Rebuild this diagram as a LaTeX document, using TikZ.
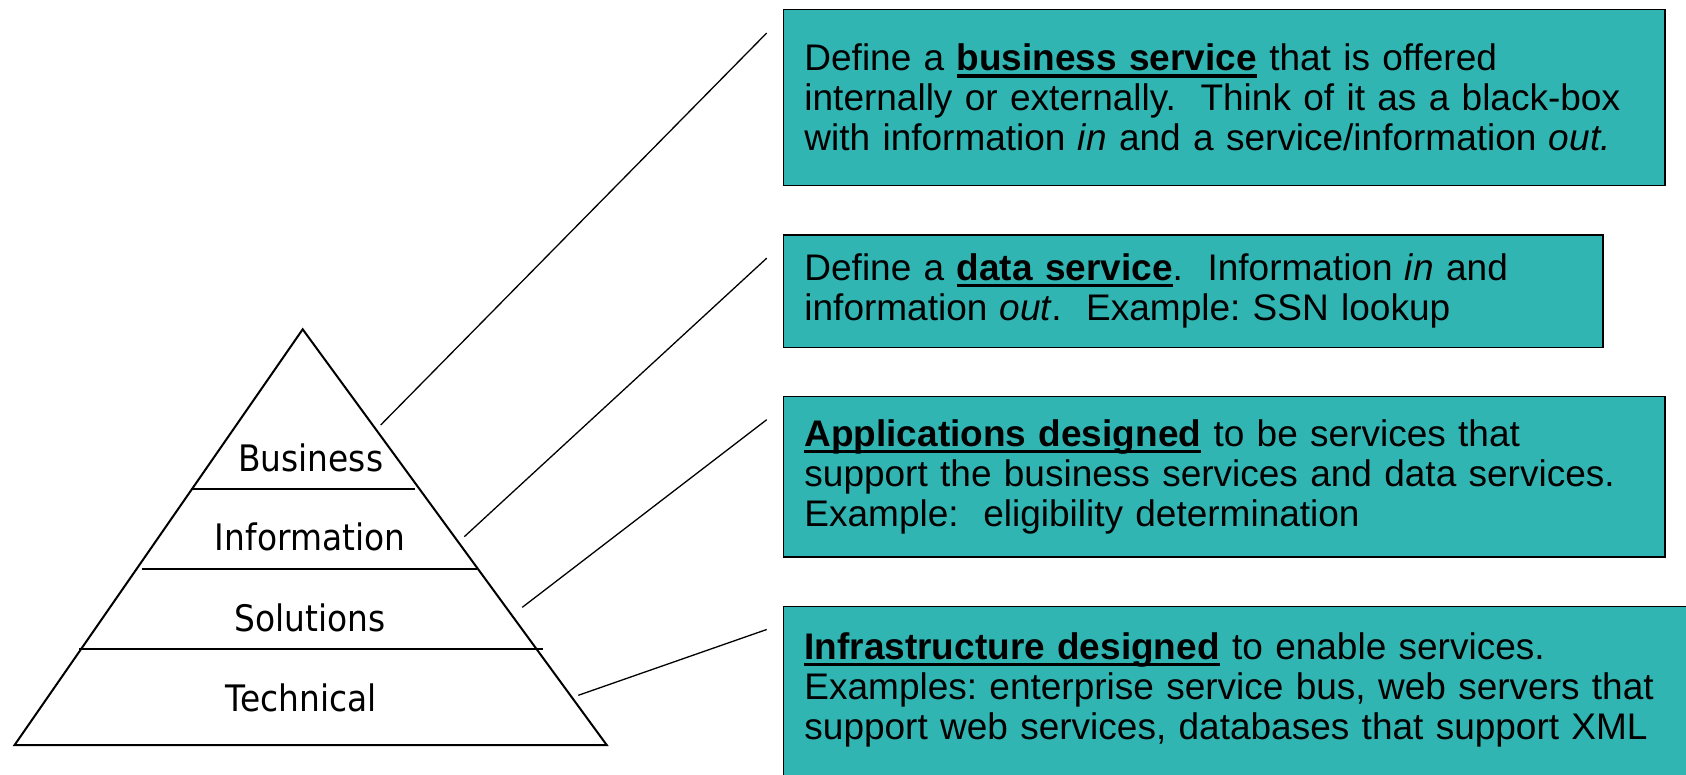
\documentclass[tikz,border=0pt]{standalone}
\usepackage{fontspec}
\setmainfont{Liberation Sans}
\newfontfamily\tierfont{DejaVu Sans}[FakeStretch=0.9]
\usetikzlibrary{positioning}
\definecolor{boxColor}{RGB}{48,181,178}
\tikzstyle{pyramidLine} = [color=black, line width=1pt]
\tikzstyle{leaderLine} = [color=black, line width=0.65pt]
\tikzstyle{tierLabel} = [anchor=base, inner sep=0pt, font=\tierfont\fontsize{18.25pt}{20pt}\selectfont]
\tikzstyle{serviceBox} = [draw=black, fill=boxColor, line width=0.75pt, align=left, inner xsep=10.5pt, inner ysep=0pt, font=\fontsize{18.5pt}{20pt}\selectfont\frenchspacing]
\newsavebox{\keyTermBox}
\newcommand{\keyTerm}[1]{\sbox{\keyTermBox}{\bfseries #1}\rlap{\rule[-3.4pt]{\wd\keyTermBox}{1.7pt}}\usebox{\keyTermBox}}

\begin{document}
\begin{tikzpicture}[x=0.5pt, y=-0.5pt]
  \useasboundingbox (0,0) rectangle (1686,775);
  \clip (0,0) rectangle (1686,775);

  % pyramid
  \coordinate (apex) at (302.7,329.3);
  \coordinate (baseLeft) at (14.6,745);
  \coordinate (baseRight) at (606.7,745);
  \draw [pyramidLine] (apex) -- (baseRight) -- (baseLeft) -- cycle;
  \foreach \y/\xa/\xb in {489/191/415, 569.3/141.5/477, 649.3/79/542.7} {
    \draw [pyramidLine] (\xa,\y) -- (\xb,\y);
  }
  \node [tierLabel] (businessTier) at (310.7,471.7) {Business};
  \node [tierLabel] (informationTier) at (310,550.7) {Information};
  \node [tierLabel] (solutionsTier) at (310.3,631.7) {Solutions};
  \node [tierLabel] (technicalTier) at (301.4,711) {Technical};

  % service boxes
  \node [serviceBox, anchor=north west, text width=419.8pt, minimum height=88pt] (businessBox) at (782.7,9)
    {Define a \keyTerm{business service} that is offered\\
     internally or externally.\ \ Think of it as a black-box\\
     with information \textit{in} and a service/information \textit{out.}};
  \node [serviceBox, below right=23.85pt and 0pt of businessBox.south west, text width=388.65pt, minimum height=56.15pt] (dataBox)
    {Define a \keyTerm{data service}.\ \ Information \textit{in} and\\
     information \textit{out}.\ \ Example: SSN lookup};
  \node [serviceBox, below right=23.85pt and 0pt of dataBox.south west, text width=419.8pt, minimum height=80.3pt] (applicationBox)
    {\keyTerm{Applications designed} to be services that\\
     support the business services and data services.\\
     Example:\ \ eligibility determination};
  \node [serviceBox, below right=23.85pt and 0pt of applicationBox.south west, text width=439pt, minimum height=97pt, text depth=57pt] (infrastructureBox)
    {\keyTerm{Infrastructure designed} to enable services.\\
     Examples: enterprise service bus, web servers that\\
     support web services, databases that support XML};

  % leader lines
  \coordinate (businessEnd) at (380.7,425);
  \coordinate (informationEnd) at (464.3,536.7);
  \coordinate (solutionsEnd) at (522.3,607.3);
  \coordinate (technicalEnd) at (578.3,695.3);
  \draw [leaderLine] (businessEnd) -- ([shift={(-16,24)}]businessBox.north west);
  \draw [leaderLine] (informationEnd) -- ([shift={(-16,24)}]dataBox.north west);
  \draw [leaderLine] (solutionsEnd) -- ([shift={(-16,24)}]applicationBox.north west);
  \draw [leaderLine] (technicalEnd) -- ([shift={(-16,24)}]infrastructureBox.north west);
\end{tikzpicture}
\end{document}
